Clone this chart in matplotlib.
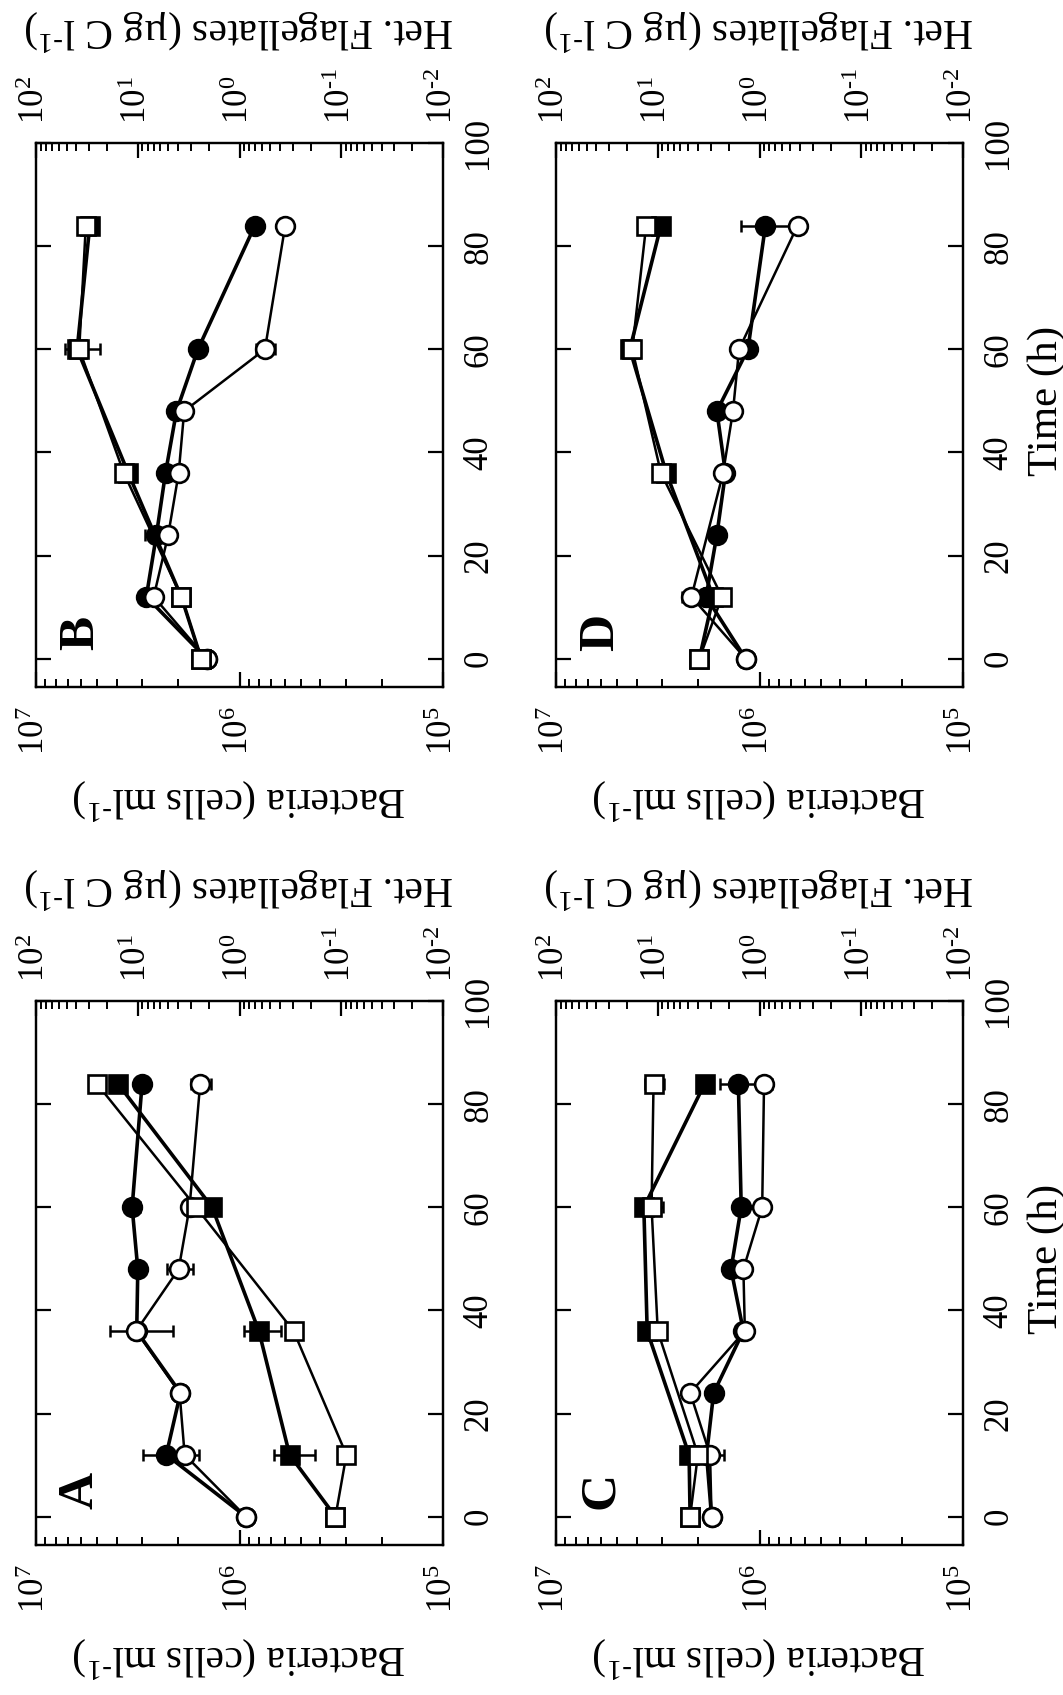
import matplotlib
matplotlib.use("Agg")
import matplotlib.pyplot as plt
from matplotlib.ticker import LogLocator, NullFormatter, FuncFormatter
from matplotlib.transforms import blended_transform_factory
import numpy as np

plt.rcParams['font.family'] = 'serif'
plt.rcParams['font.serif'] = ['Liberation Serif', 'DejaVu Serif']
plt.rcParams['mathtext.fontset'] = 'custom'
plt.rcParams['mathtext.rm'] = 'Liberation Serif'
plt.rcParams['mathtext.it'] = 'Liberation Serif:italic'
plt.rcParams['mathtext.bf'] = 'Liberation Serif:bold'

# sampling times (h)
hours = [0, 12, 24, 36, 48, 60, 84]
hours_flag = [0, 12, 36, 60, 84]
hours_D_open = [0, 12, 36, 48, 60, 84]

# Panel A
A_bac_open = [9.3e5, 1.86e6, 1.97e6, 3.22e6, 1.99e6, 1.76e6, 1.56e6]
A_bac_open_err = [0, 0.15e6, 0, 1.1e6, 0.29e6, 0, 0.18e6]
A_bac_fill = [9.3e5, 2.29e6, 1.95e6, 3.2e6, 3.16e6, 3.37e6, 3.01e6]
A_bac_fill_err = [0, 0.7e6, 0, 0, 0, 0.3e6, 0.2e6]
A_flag_open = [0.114, 0.089, 0.294, 2.67, 25.3]
A_flag_open_err = [0, 0, 0, 0, 0]
A_flag_fill = [0.114, 0.322, 0.645, 1.86, 15.7]
A_flag_fill_err = [0, 0.14, 0.25, 0, 0]

# Panel B
B_bac_open = [1.45e6, 2.64e6, 2.24e6, 1.99e6, 1.87e6, 7.5e5, 5.96e5]
B_bac_open_err = [0, 0, 0.15e6, 0, 0, 0.08e6, 0]
B_bac_fill = [1.45e6, 2.87e6, 2.56e6, 2.31e6, 2.04e6, 1.60e6, 8.4e5]
B_bac_fill_err = [0, 0, 0.36e6, 0, 0, 0, 0]
B_flag_open = [2.38, 3.73, 13.7, 37.6, 32.4]
B_flag_open_err = [0, 0, 0, 14.0, 0]
B_flag_fill = [2.38, 3.73, 12.4, 39.4, 29.6]
B_flag_fill_err = [0, 0, 0, 0, 0]

# Panel C
C_bac_open = [1.72e6, 1.75e6, 2.19e6, 1.18e6, 1.20e6, 9.7e5, 9.5e5]
C_bac_open_err = [0, 0.25e6, 0, 0, 0, 0.05e6, 0.08e6]
C_bac_fill = [1.72e6, 1.82e6, 1.68e6, 1.20e6, 1.38e6, 1.23e6, 1.27e6]
C_bac_fill_err = [0, 0, 0, 0, 0, 0, 0.3e6]
C_flag_open = [4.81, 4.03, 10.0, 11.5, 11.0]
C_flag_open_err = [0, 0, 0, 2.6, 2.4]
C_flag_fill = [4.81, 4.92, 12.7, 13.7, 3.45]
C_flag_fill_err = [0, 0, 0, 0, 0]

# Panel D
D_bac_open = [1.17e6, 2.16e6, 1.51e6, 1.35e6, 1.26e6, 6.5e5]
D_bac_open_err = [0, 0.25e6, 0, 0, 0, 0]
D_bac_fill = [1.17e6, 1.83e6, 1.62e6, 1.47e6, 1.62e6, 1.14e6, 9.35e5]
D_bac_fill_err = [0, 0, 0, 0, 0, 0, 0.3e6]
D_flag_open = [3.90, 2.34, 9.3, 17.8, 13.0]
D_flag_open_err = [0, 0, 0, 0, 0]
D_flag_fill = [3.90, 2.85, 8.24, 18.8, 9.3]
D_flag_fill_err = [0, 0, 0, 0, 0]

W, H = 1063, 1695


def rect(left, top, right, bottom):
    return [left / W, 1 - bottom / H, (right - left) / W, (bottom - top) / H]


def pow10(v, pos):
    e = int(round(np.log10(v)))
    return r'$\mathdefault{10^{\text{%d}}}$' % e


def series(ax, t, vals, errs, filled, marker):
    lw = 2.6 if filled else 1.8
    face = 'black' if filled else 'white'
    et = [a for a, e in zip(t, errs) if e > 0]
    ev = [v for v, e in zip(vals, errs) if e > 0]
    ee = [e for e in errs if e > 0]
    if ee:
        ax.errorbar(ev, et, xerr=ee, fmt='none', ecolor='black',
                    elinewidth=1.8, capsize=4.5, capthick=1.8)
    ax.plot(vals, t, '-', marker=marker, color='black', lw=lw,
            markersize=13.5, markerfacecolor=face, markeredgecolor='black',
            markeredgewidth=1.9)


def panel(fig, r, letter, t_open, bo, boe, bf, bfe, fo, foe, ff, ffe, time_label):
    ax = fig.add_axes(r)
    ax.set_xscale('log')
    ax.set_xlim(1e7, 1e5)
    ax.set_ylim(-5.5, 100)
    ax.set_yticks([0, 20, 40, 60, 80, 100])
    ax2 = ax.twiny()
    ax2.set_xscale('log')
    ax2.set_xlim(1e2, 1e-2)

    for a in (ax, ax2):
        a.xaxis.set_major_locator(LogLocator(base=10, numticks=20))
        a.xaxis.set_minor_locator(LogLocator(base=10, subs=range(2, 10),
                                             numticks=100))
        a.xaxis.set_major_formatter(FuncFormatter(pow10))
        a.xaxis.set_minor_formatter(NullFormatter())
        a.tick_params(axis='x', which='major', direction='in', length=11,
                      width=1.6, labelsize=25, pad=14, labelrotation=90)
        a.tick_params(axis='x', which='minor', direction='in', length=5.5,
                      width=1.4)
        for s in a.spines.values():
            s.set_linewidth(1.6)
    ax.tick_params(axis='y', direction='in', length=11, width=1.6,
                   left=True, right=True, labelleft=False, labelright=True,
                   labelsize=25, pad=14)
    for lab in ax.get_yticklabels():
        lab.set_rotation(90)
        lab.set_va('center')

    # bacteria (circles) on bottom axis, flagellates (squares) on top axis
    series(ax, hours, bf, bfe, True, 'o')
    series(ax, t_open, bo, boe, False, 'o')
    series(ax2, hours_flag, ff, ffe, True, 's')
    series(ax2, hours_flag, fo, foe, False, 's')

    ax.text(0.11, 0.10, letter, transform=ax.transAxes, rotation=90,
            fontsize=37, fontweight='bold', ha='center', va='center')
    ax.text(0.5, -0.206, r'Bacteria (cells ml$^{\text{-1}}$)',
            transform=ax.transAxes, rotation=180, ha='center', va='center',
            fontsize=30)
    ax.text(0.5, 1.206, r'Het. Flagellates (µg C l$^{\text{-1}}$)',
            transform=ax.transAxes, rotation=180, ha='center', va='center',
            fontsize=30)
    if time_label:
        tr = blended_transform_factory(ax.transAxes, ax.transData)
        ax.text(1.205, 50, 'Time (h)', transform=tr, rotation=90,
                ha='center', va='center', fontsize=31)
    return ax


fig = plt.figure(figsize=(W / 100, H / 100), dpi=100)

panel(fig, rect(36, 1001, 443, 1545), 'A', hours,
      A_bac_open, A_bac_open_err, A_bac_fill, A_bac_fill_err,
      A_flag_open, A_flag_open_err, A_flag_fill, A_flag_fill_err, False)
panel(fig, rect(36, 143, 443, 687), 'B', hours,
      B_bac_open, B_bac_open_err, B_bac_fill, B_bac_fill_err,
      B_flag_open, B_flag_open_err, B_flag_fill, B_flag_fill_err, False)
panel(fig, rect(556, 1001, 963, 1545), 'C', hours,
      C_bac_open, C_bac_open_err, C_bac_fill, C_bac_fill_err,
      C_flag_open, C_flag_open_err, C_flag_fill, C_flag_fill_err, True)
panel(fig, rect(556, 143, 963, 687), 'D', hours_D_open,
      D_bac_open, D_bac_open_err, D_bac_fill, D_bac_fill_err,
      D_flag_open, D_flag_open_err, D_flag_fill, D_flag_fill_err, True)

fig.savefig('out.png', dpi=100, facecolor='white')
